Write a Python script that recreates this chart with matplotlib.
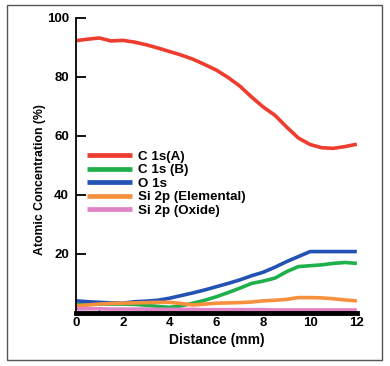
import matplotlib

matplotlib.use("Agg")

import matplotlib.pyplot as plt
from matplotlib.patches import Rectangle

plt.rcParams["font.family"] = ["Liberation Sans", "DejaVu Sans"]
plt.rcParams["font.weight"] = "bold"

distance = [0, 0.5, 1, 1.5, 2, 2.5, 3, 3.5, 4, 4.5, 5, 5.5, 6, 6.5, 7, 7.5, 8, 8.5,
            9, 9.5, 10, 10.5, 11, 11.5, 12]

c1s_a = [92.3, 92.8, 93.2, 92.2, 92.4, 91.8, 90.9, 89.8, 88.6, 87.4, 86.0, 84.2,
         82.3, 79.8, 76.9, 73.2, 69.8, 67.0, 63.0, 59.3, 57.1, 56.0, 55.8, 56.4, 57.2]
c1s_b = [2.8, 2.9, 3.0, 3.0, 3.0, 2.9, 2.6, 2.2, 1.9, 2.4, 3.3, 4.3, 5.5, 6.9, 8.4,
         10.0, 10.8, 11.8, 14.0, 15.7, 16.0, 16.3, 16.8, 17.1, 16.8]
o1s = [4.1, 3.8, 3.6, 3.4, 3.3, 3.8, 4.0, 4.3, 5.0, 5.9, 6.8, 7.8, 8.9, 10.0, 11.2,
       12.6, 13.8, 15.5, 17.4, 19.1, 20.8, 20.8, 20.8, 20.8, 20.8]
si2p_el = [2.4, 2.7, 3.0, 3.2, 3.3, 3.4, 3.5, 3.6, 3.6, 3.2, 2.7, 3.0, 3.3, 3.4,
           3.5, 3.7, 4.1, 4.3, 4.6, 5.2, 5.2, 5.1, 4.8, 4.4, 4.1]
si2p_ox = [1.4, 1.4, 1.4, 1.3, 1.3, 1.3, 1.3, 1.2, 1.2, 1.2, 1.2, 1.1, 1.1, 1.1,
           1.1, 1.1, 1.1, 1.0, 1.0, 1.0, 1.0, 1.0, 1.0, 1.0, 1.0]

series = [
    ("C 1s(A)", c1s_a, "#ee3d2f"),
    ("C 1s (B)", c1s_b, "#20b04b"),
    ("O 1s", o1s, "#2352b5"),
    ("Si 2p (Elemental)", si2p_el, "#f7903d"),
    ("Si 2p (Oxide)", si2p_ox, "#e083c6"),
]

x_ticks = [0, 2, 4, 6, 8, 10, 12]
y_ticks = [20, 40, 60, 80, 100]

fig = plt.figure(figsize=(3.9, 3.66), dpi=100)
ax = fig.add_axes([0.195, 0.145, 0.72, 0.806])

for name, vals, color in series:
    ax.plot(distance, vals, color=color, lw=2.6, label=name, solid_capstyle="butt")

ax.set_xlim(0, 12)
ax.set_ylim(0, 100)
ax.set_xticks(x_ticks)
ax.set_xticks([1, 3, 5, 7, 9, 11], minor=True)
ax.set_yticks(y_ticks)

for side in ("top", "right"):
    ax.spines[side].set_visible(False)
ax.spines["left"].set_linewidth(1.3)
ax.spines["bottom"].set_linewidth(3.5)
ax.spines["bottom"].set_zorder(5)

ax.tick_params(axis="y", direction="in", length=7, width=1.3, pad=5, labelsize=9.5)
ax.tick_params(axis="x", direction="in", length=0, pad=3, labelsize=9.5)
ax.tick_params(axis="x", which="minor", direction="in", length=3, width=1)
for lab in ax.get_xticklabels() + ax.get_yticklabels():
    lab.set_fontweight("bold")

ax.set_xlabel("Distance (mm)", fontsize=10, fontweight="bold", labelpad=3)
fig.text(0.103, 1 - 180 / 366, "Atomic Concentration (%)", rotation=90,
         ha="center", va="center", fontsize=8.8, fontweight="bold")

leg = ax.legend(loc="upper left", bbox_to_anchor=(0.02, 0.568), frameon=False,
                fontsize=9.6, handlelength=3.4, handletextpad=0.4,
                labelspacing=0.08, borderaxespad=0)
for line in leg.get_lines():
    line.set_linewidth(3.4)
for t in leg.get_texts():
    t.set_fontweight("bold")

fig.patches.append(Rectangle((7 / 390, 1 - 360 / 366), 375 / 390, 355 / 366,
                             transform=fig.transFigure, fill=False,
                             edgecolor="#555555", lw=1.0))

fig.savefig("out.png", dpi=100)
